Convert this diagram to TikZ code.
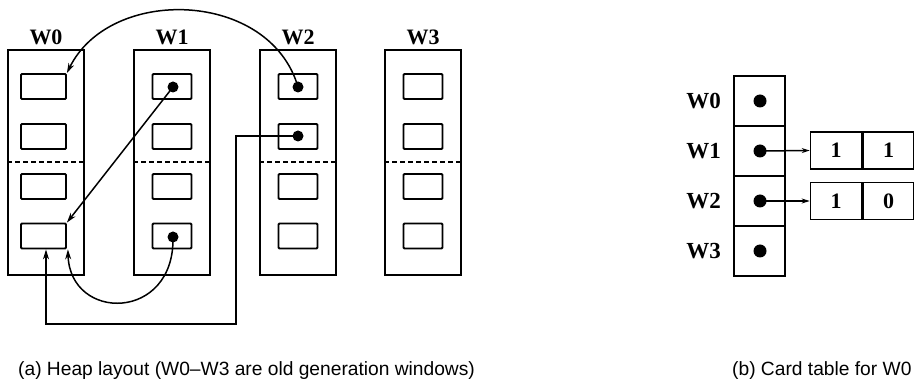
\documentclass[tikz,border=0pt]{standalone}
\usepackage{fontspec}
\setmainfont{Liberation Serif}
\newfontfamily\capfont{Liberation Sans}
\usetikzlibrary{arrows.meta}
\begin{document}
\begin{tikzpicture}[x=1pt,y=-1pt,
  win/.style={draw,line width=1.6pt,minimum width=76pt,minimum height=225pt,inner sep=0pt},
  slot/.style={draw,line width=1.8pt,rounded corners=1pt,minimum width=39pt,minimum height=25pt,inner sep=0pt},
  slotw/.style={slot,minimum width=45pt},
  wlabel/.style={font=\bfseries\fontsize{22}{22}\selectfont,inner sep=0pt},
  clabel/.style={font=\bfseries\fontsize{23}{23}\selectfont,inner sep=0pt,anchor=east},
  dotc/.style={circle,fill,inner sep=0pt,minimum size=11pt},
  cell/.style={draw,line width=1.6pt,minimum width=51pt,minimum height=50pt,inner sep=0pt},
  bit/.style={draw,line width=1.6pt,minimum width=51pt,minimum height=37pt,inner sep=0pt,font=\bfseries\fontsize{22}{22}\selectfont},
  ptr/.style={line width=1.5pt,-{Stealth[length=10pt,width=6pt]}},
  sep/.style={line width=1.6pt,dash pattern=on 5pt off 3pt},
  captext/.style={font=\capfont\fontsize{19.2}{19.2}\selectfont,inner sep=0pt,anchor=west}
]
\useasboundingbox (0,0) rectangle (914,387);

% windows
\foreach \i/\x in {0/46,1/172,2/298,3/423}{
  \node[win] (w\i) at (\x,162.5) {};
  \node[wlabel] (l\i) at (\x,37) {W\i};
  \draw[sep] (w\i.west |- 0,162) -- (w\i.east |- 0,162);
}
% slots
\foreach \j/\y in {1/86.5,2/136.5,3/186.5,4/236}{
  \node[slotw] (b0\j) at (43.5,\y) {};
  \node[slot] (b1\j) at (172,\y) {};
  \node[slot] (b2\j) at (298,\y) {};
  \node[slot] (b3\j) at (423,\y) {};
}
% dots
\node[dotc] (d11) at (173,87) {};
\node[dotc] (d14) at (173,237) {};
\node[dotc] (d21) at (298,87) {};
\node[dotc] (d22) at (298,136) {};

% pointers
\draw[ptr] (d21.center) .. controls (270,-10) and (110,-15) .. (b01.north east);
\draw[ptr] (d11.center) -- (b04.north east);
\draw[ptr] (d14.center) .. controls (175,322) and (70,322) .. ([xshift=1pt]b04.south east);
\coordinate (p1) at (236,136);
\coordinate (p2) at (236,324);
\coordinate (p3) at (46,324);
\draw[ptr] (d22.center) -- (p1) -- (p2) -- (p3) -- ([xshift=2.5pt]b04.south);

% card table
\foreach \i/\y in {0/101,1/151,2/201,3/251}{
  \node[cell] (c\i) at (759.5,\y) {};
  \node[dotc,minimum size=13pt] (cd\i) at (760,\y) {};
  \node[clabel] (cl\i) at (721,\y) {W\i};
}
\node[bit] (r1a) at (836,150.5) {1};
\node[bit,anchor=west] (r1b) at (r1a.east) {1};
\node[bit] (r2a) at (836,201) {1};
\node[bit,anchor=west] (r2b) at (r2a.east) {0};
\draw[line width=1.5pt,-{Stealth[length=8pt,width=5pt]}] (cd1.center) -- (r1a.west);
\draw[line width=1.5pt,-{Stealth[length=8pt,width=5pt]}] (cd2.center) -- (r2a.west);

% captions
\node[captext] (capa) at (18,371) {(a) Heap layout (W0–W3 are old generation windows)};
\node[captext] (capb) at (732,371) {(b) Card table for W0};
\end{tikzpicture}
\end{document}
